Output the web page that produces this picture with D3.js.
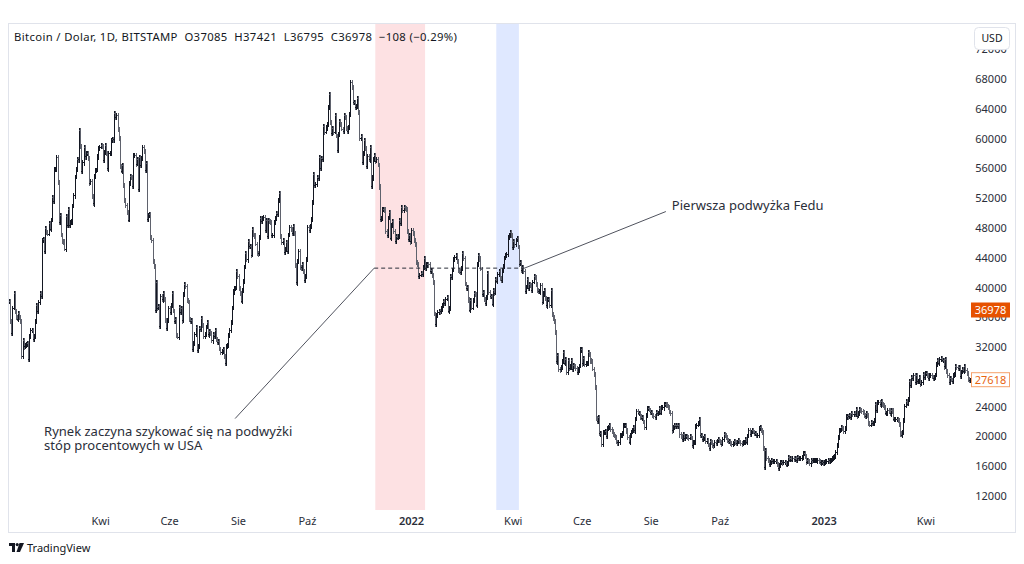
<!DOCTYPE html>
<html>
<head>
<meta charset="utf-8">
<script src="https://cdn.jsdelivr.net/npm/d3@7"></script>
<style>
  body { margin: 0; background: #fff; }
  svg { display: block; font-family: "Noto Sans", sans-serif; }
</style>
</head>
<body>
<svg id="chart" width="1024" height="564"></svg>
<script>
// daily closes (thousands USD), one inner array per month
// 2021 starts on Jan 10
var closes2021 = [
  [38.2,35.5,33.9,37.3,39.2,36.8,36.0,35.8,36.6,36.0,35.5,30.8,33.0,32.1,32.3,32.4,32.6,30.4,33.5,34.3,34.3,33.1],
  [33.5,35.5,37.7,36.9,38.1,39.3,38.9,46.4,46.5,44.9,48.0,47.4,47.2,48.6,47.9,49.1,52.1,51.6,55.9,55.9,57.5,54.2,48.8,49.7,47.1,46.3,46.2,45.2],
  [49.6,48.4,50.5,48.4,48.8,48.9,51.0,52.4,54.9,55.9,57.3,57.2,61.2,59.0,55.6,56.8,58.9,57.6,58.1,58.1,57.4,54.1,54.3,52.3,51.3,55.0,55.8,55.8,57.6,58.8,58.9],
  [59.1,59.0,57.1,58.2,59.1,58.0,56.0,58.1,58.1,59.8,60.0,59.9,63.5,62.9,63.2,61.3,60.1,56.3,55.7,56.5,53.8,51.8,51.1,50.1,49.1,54.0,55.0,54.8,53.6,57.8],
  [57.8,56.6,57.2,53.2,57.5,56.4,57.4,58.9,58.3,55.8,56.7,49.2,49.7,49.9,46.8,46.4,43.6,42.9,37.0,40.8,37.3,37.5,34.8,38.8,38.4,39.3,38.5,35.7,34.6,35.7,37.3],
  [36.7,37.6,39.2,36.9,35.5,35.8,33.6,33.4,37.4,36.7,37.3,35.6,39.1,40.5,40.2,38.3,38.1,35.8,35.5,35.6,31.7,32.5,33.7,34.7,31.6,32.2,34.6,34.4,35.9,35.0],
  [33.5,33.8,34.7,35.3,33.7,34.2,33.9,32.9,33.8,33.5,34.3,33.1,32.7,32.8,31.8,31.4,31.5,31.8,30.8,29.8,32.1,32.3,33.6,34.3,35.4,37.3,39.5,40.0,40.0,42.2,41.5],
  [39.9,39.2,38.2,39.7,40.9,42.8,44.6,43.8,46.3,45.6,45.6,44.4,47.8,47.1,47.0,45.9,44.7,44.6,46.8,49.3,48.9,49.3,49.5,47.7,49.0,46.9,49.1,48.9,48.8,47.1,47.1],
  [48.8,49.3,50.0,49.9,51.8,52.7,46.9,46.1,46.4,44.8,45.2,46.1,44.9,47.1,48.1,47.8,47.3,48.3,47.3,43.0,40.7,43.6,44.9,42.8,42.7,43.2,42.2,41.0,41.5,43.8],
  [48.1,47.7,48.2,49.2,51.5,55.3,53.8,53.9,54.9,54.7,57.5,56.0,57.4,57.3,61.7,60.9,61.5,62.0,64.3,66.0,62.2,60.7,61.4,60.9,63.1,60.4,58.5,60.6,62.3,61.9,61.3],
  [61.0,63.2,62.9,61.4,61.0,61.5,63.3,67.6,66.9,64.9,64.9,64.2,64.4,65.5,63.6,60.1,60.4,56.9,58.1,59.8,58.7,56.3,57.6,57.2,58.9,53.6,54.8,57.3,57.8,57.0],
  [57.2,56.5,53.6,49.2,49.4,50.6,50.6,50.5,47.6,47.1,49.4,50.1,46.7,48.4,48.9,47.6,46.2,46.9,46.7,46.9,49.0,48.6,50.8,50.4,50.8,50.7,50.6,47.6,46.5,47.1,46.2]
];
var closes2022 = [
  [47.7,47.3,46.4,45.8,43.4,43.1,41.5,41.7,41.9,41.8,42.7,43.9,42.6,43.1,43.2,43.1,42.2,42.4,41.7,40.7,36.5,35.1,36.3,36.7,36.9,36.8,37.2,37.7,38.2,37.9,38.5],
  [38.7,36.9,37.3,41.6,41.4,42.4,43.8,44.1,44.4,43.6,42.4,42.2,42.1,42.6,44.6,43.9,40.5,40.0,40.1,38.4,37.0,38.3,37.3,38.3,39.2,39.1,37.7,43.2],
  [44.4,43.9,42.5,39.1,39.4,38.4,37.9,38.7,41.9,39.4,38.8,38.8,37.8,39.7,39.3,41.1,40.9,41.8,42.2,41.3,41.0,42.4,42.9,44.0,44.3,44.5,46.8,47.1,47.5,47.1,45.5],
  [46.3,45.8,46.4,46.6,45.5,43.2,43.4,42.3,42.8,42.2,39.5,40.1,41.1,39.9,40.5,40.4,39.7,40.8,41.5,41.4,40.5,39.7,39.5,39.5,40.4,38.1,39.2,39.7,38.6,37.6],
  [38.5,38.5,37.7,39.7,36.5,36.0,35.5,34.0,30.1,31.0,29.1,29.0,29.3,30.1,31.3,29.9,30.4,28.7,30.3,29.2,29.4,30.3,29.1,29.6,29.5,29.2,28.6,29.0,29.5,31.7,31.8],
  [29.8,30.5,29.7,29.9,29.9,31.4,31.1,30.2,30.1,29.1,28.4,26.6,22.5,22.1,22.6,20.4,20.5,19.0,20.6,20.6,20.7,20.0,21.1,21.2,21.5,21.0,20.7,20.3,20.1,19.9],
  [19.3,19.2,19.3,20.2,20.2,20.5,21.6,21.6,21.6,20.8,19.9,19.3,20.2,20.6,20.8,21.2,20.8,22.4,23.4,23.2,23.2,22.7,22.5,22.6,22.0,21.3,22.9,23.8,23.8,23.6,23.3],
  [23.3,22.9,22.8,22.6,23.3,23.2,23.2,23.8,23.2,23.9,23.9,24.4,24.4,24.3,24.1,23.9,23.3,23.2,20.8,21.2,21.5,21.4,21.5,21.4,21.6,20.3,20.0,19.6,20.3,19.8,20.1],
  [20.1,19.9,19.8,20.0,19.8,18.8,19.3,19.3,21.4,21.6,21.8,22.4,20.2,20.2,19.7,19.8,20.1,19.4,19.5,18.9,18.5,19.4,19.3,18.9,18.8,19.2,19.1,19.4,19.6,19.4],
  [19.3,19.0,19.6,20.3,20.2,19.9,19.5,19.4,19.4,19.1,19.0,19.1,19.4,19.2,19.1,19.3,19.5,19.3,19.1,19.0,19.2,19.2,19.6,19.3,20.1,20.8,20.3,20.6,20.8,20.6,20.5],
  [20.5,20.2,20.2,21.1,21.3,20.9,20.6,18.5,15.9,18.2,17.1,16.8,16.3,16.6,16.9,16.7,16.7,16.7,16.7,16.3,15.8,16.2,16.6,16.6,16.5,16.5,16.5,16.2,16.4,17.2],
  [16.9,17.1,16.9,17.1,17.0,17.1,16.8,17.2,17.1,17.1,17.1,17.2,17.8,17.8,17.4,16.6,16.8,16.7,16.4,16.9,16.8,16.8,16.8,16.8,16.8,16.9,16.7,16.5,16.6,16.6,16.5]
];
// 2023 ends on May 10
var closes2023 = [
  [16.6,16.7,16.7,16.9,16.8,16.9,16.9,17.1,17.2,17.4,17.9,18.8,19.9,20.9,20.9,21.2,21.1,20.7,21.1,22.7,22.8,22.7,22.9,22.6,23.1,23.0,23.1,23.0,23.7,22.8,23.1],
  [23.7,23.5,23.4,23.3,22.9,22.8,23.2,22.9,21.8,21.6,21.9,21.8,21.8,22.2,24.3,23.5,24.6,24.6,24.3,24.8,24.4,24.2,23.9,23.2,23.2,23.6,23.5,23.1],
  [23.6,23.5,22.4,22.4,22.4,22.4,22.2,21.7,20.4,20.2,20.6,22.2,24.1,24.7,24.4,25.0,27.4,26.9,28.0,27.8,28.2,27.3,28.3,27.5,27.5,28.0,27.1,27.3,28.4,28.0,28.5],
  [28.5,28.2,27.8,28.2,28.2,28.0,27.9,28.0,28.3,29.7,30.2,29.9,30.4,30.5,30.3,30.3,29.4,30.4,28.8,28.2,27.3,27.8,27.6,27.5,28.3,28.4,29.5,29.3,29.2,29.3],
  [28.1,28.7,29.0,28.8,29.5,28.9,28.5,27.7,27.6,27.618]
];

var priceTicks = [12000,16000,20000,24000,28000,32000,36000,40000,44000,48000,52000,56000,60000,64000,68000,72000];
var timeTickDates = ["2021-04-01","2021-06-01","2021-08-01","2021-10-01","2022-01-01","2022-04-01","2022-06-01","2022-08-01","2022-10-01","2023-01-01","2023-04-01"];
var timeTickLabels = ["Kwi","Cze","Sie","Paź","2022","Kwi","Cze","Sie","Paź","2023","Kwi"];

var pinkZone = ["2021-11-30", "2022-01-13"];
var blueZone = ["2022-03-17", "2022-04-06"];
var levelPrice = 42600;
var levelDates = ["2021-11-29", "2022-04-11"];
var note1Line = [["2021-07-29", 22400], ["2021-11-29", 42600]];
var note2Line = [["2022-04-11", 42600], ["2022-08-14", 50200]];
var note1Text = ["Rynek zaczyna szykować się na podwyżki", "stóp procentowych w USA"];
var note2Text = ["Pierwsza podwyżka Fedu"];
var hoverClose = 36978;
var lastClose = 27618;
var headerText = "Bitcoin / Dolar, 1D, BITSTAMP  O37085  H37421  L36795  C36978  \u2212108 (\u22120.29%)";

// flatten into bars
var bars = [];
function addYear(year, months, firstDay) {
  months.forEach(function(m, mi) {
    var start = (mi === 0 && firstDay) ? firstDay : 1;
    m.forEach(function(c, di) {
      bars.push({ date: new Date(year, mi, start + di), close: c * 1000 });
    });
  });
}
addYear(2021, closes2021, 10);
addYear(2022, closes2022);
addYear(2023, closes2023);
bars.forEach(function(b, i) { b.open = i ? bars[i - 1].close : b.close; });

var parse = d3.timeParse("%Y-%m-%d");
var svg = d3.select("#chart");

var plotLeft = 9, plotRight = 970, plotTop = 24, plotBottom = 510;

var x = d3.scaleTime()
  .domain([bars[0].date, bars[bars.length - 1].date])
  .range([9, 970]);
var y = d3.scaleLinear()
  .domain([12000, 68000])
  .range([496, 79]);

// frame
svg.append("rect")
  .attr("x", 8.5).attr("y", 23.5).attr("width", 1007).attr("height", 509)
  .attr("fill", "#fff").attr("stroke", "#e0e3eb");

svg.append("clipPath").attr("id", "plotclip")
  .append("rect").attr("x", plotLeft).attr("y", plotTop)
  .attr("width", plotRight - plotLeft + 3).attr("height", plotBottom - plotTop);

var plot = svg.append("g").attr("clip-path", "url(#plotclip)");

// highlighted ranges
[[pinkZone, "rgba(242,54,69,0.15)"], [blueZone, "rgba(41,98,255,0.15)"]].forEach(function(z) {
  plot.append("rect")
    .attr("x", x(parse(z[0][0])))
    .attr("y", plotTop)
    .attr("width", x(parse(z[0][1])) - x(parse(z[0][0])))
    .attr("height", plotBottom - plotTop)
    .attr("fill", z[1]);
});

// OHLC-style bars: body from open to close, open tick left, close tick right
var barG = plot.selectAll("g.bar")
  .data(bars)
  .enter()
  .append("g")
    .attr("class", "bar")
    .attr("shape-rendering", "crispEdges")
    .attr("fill", function(d) { return d.close >= d.open ? "#131722" : "#5f626d"; });

barG.append("rect")
  .attr("x", function(d) { return Math.round(x(d.date)); })
  .attr("y", function(d) { return Math.round(y(Math.max(d.open, d.close))) - 2; })
  .attr("width", 1)
  .attr("height", function(d) { return Math.round(Math.abs(y(d.open) - y(d.close))) + 5; });
barG.append("rect")
  .attr("x", function(d) { return Math.round(x(d.date)) - 1; })
  .attr("y", function(d) { return Math.round(y(d.open)); })
  .attr("width", 1).attr("height", 1);
barG.append("rect")
  .attr("x", function(d) { return Math.round(x(d.date)) + 1; })
  .attr("y", function(d) { return Math.round(y(d.close)); })
  .attr("width", 1).attr("height", 1);

// dashed level
plot.append("line")
  .attr("x1", x(parse(levelDates[0]))).attr("x2", x(parse(levelDates[1])))
  .attr("y1", y(levelPrice)).attr("y2", y(levelPrice))
  .attr("stroke", "#2a2e39").attr("stroke-dasharray", "4,3");

// annotation lines
[note1Line, note2Line].forEach(function(l) {
  plot.append("line")
    .attr("x1", x(parse(l[0][0]))).attr("y1", y(l[0][1]))
    .attr("x2", x(parse(l[1][0]))).attr("y2", y(l[1][1]))
    .attr("stroke", "#50535e").attr("stroke-width", 1);
});

var t1x = x(parse(note1Line[0][0])) - 191;
var t1 = plot.append("text")
  .attr("x", t1x)
  .attr("y", y(note1Line[0][1]) + 17)
  .attr("font-size", 13).attr("fill", "#2a2e39");
note1Text.forEach(function(s, i) {
  t1.append("tspan").attr("x", t1x).attr("dy", i ? 14 : 0).text(s);
});

plot.append("text")
  .attr("x", x(parse(note2Line[1][0])) + 6)
  .attr("y", y(note2Line[1][1]) - 2)
  .attr("font-size", 13).attr("fill", "#2a2e39")
  .text(note2Text[0]);

// header
svg.append("text")
  .attr("x", 14).attr("y", 41)
  .attr("font-size", 11.3).attr("fill", "#131722")
  .attr("textLength", 443).attr("lengthAdjust", "spacing")
  .style("white-space", "pre")
  .text(headerText);

// price axis labels
svg.selectAll("text.ptick")
  .data(priceTicks)
  .enter()
  .append("text")
    .attr("class", "ptick")
    .attr("x", 991)
    .attr("y", function(d) { return y(d) + 4; })
    .attr("text-anchor", "middle")
    .attr("font-size", 11)
    .attr("fill", "#2a2e39")
    .text(function(d) { return d; });

// USD button
svg.append("rect")
  .attr("x", 974.5).attr("y", 27.5).attr("width", 35).attr("height", 22).attr("rx", 4)
  .attr("fill", "#fff").attr("stroke", "#e0e3eb");
svg.append("text")
  .attr("x", 992).attr("y", 42).attr("text-anchor", "middle")
  .attr("font-size", 10.5).attr("fill", "#131722").text("USD");

// price markers
svg.append("rect")
  .attr("x", 971).attr("y", y(hoverClose) - 7.5).attr("width", 39).attr("height", 15)
  .attr("fill", "#e65100");
svg.append("text")
  .attr("x", 990.5).attr("y", y(hoverClose) + 4).attr("text-anchor", "middle")
  .attr("font-size", 11).attr("fill", "#fff").text(hoverClose);

svg.append("rect")
  .attr("x", 971.5).attr("y", y(lastClose) - 7).attr("width", 38).attr("height", 14)
  .attr("fill", "#fff").attr("stroke", "#f5a26c");
svg.append("text")
  .attr("x", 990.5).attr("y", y(lastClose) + 4).attr("text-anchor", "middle")
  .attr("font-size", 11).attr("fill", "#e8650f").text(lastClose);

// time axis labels
svg.selectAll("text.ttick")
  .data(timeTickDates)
  .enter()
  .append("text")
    .attr("class", "ttick")
    .attr("x", function(d) { return x(parse(d)); })
    .attr("y", 525)
    .attr("text-anchor", "middle")
    .attr("font-size", 11)
    .attr("font-weight", function(d, i) { return /^\d+$/.test(timeTickLabels[i]) ? 600 : 400; })
    .attr("fill", "#2a2e39")
    .text(function(d, i) { return timeTickLabels[i]; });

// TradingView logo
var logo = svg.append("g").attr("transform", "translate(9,543)").attr("fill", "#131722");
logo.append("path").attr("d", "M0 0 H6 V9 H3 V3 H0 Z");
logo.append("circle").attr("cx", 8.2).attr("cy", 1.6).attr("r", 1.6);
logo.append("path").attr("d", "M10.5 0 H15 L11 9 H7.5 Z");
svg.append("text")
  .attr("x", 27).attr("y", 552)
  .attr("font-size", 11).attr("fill", "#131722")
  .text("TradingView");
</script>
</body>
</html>
